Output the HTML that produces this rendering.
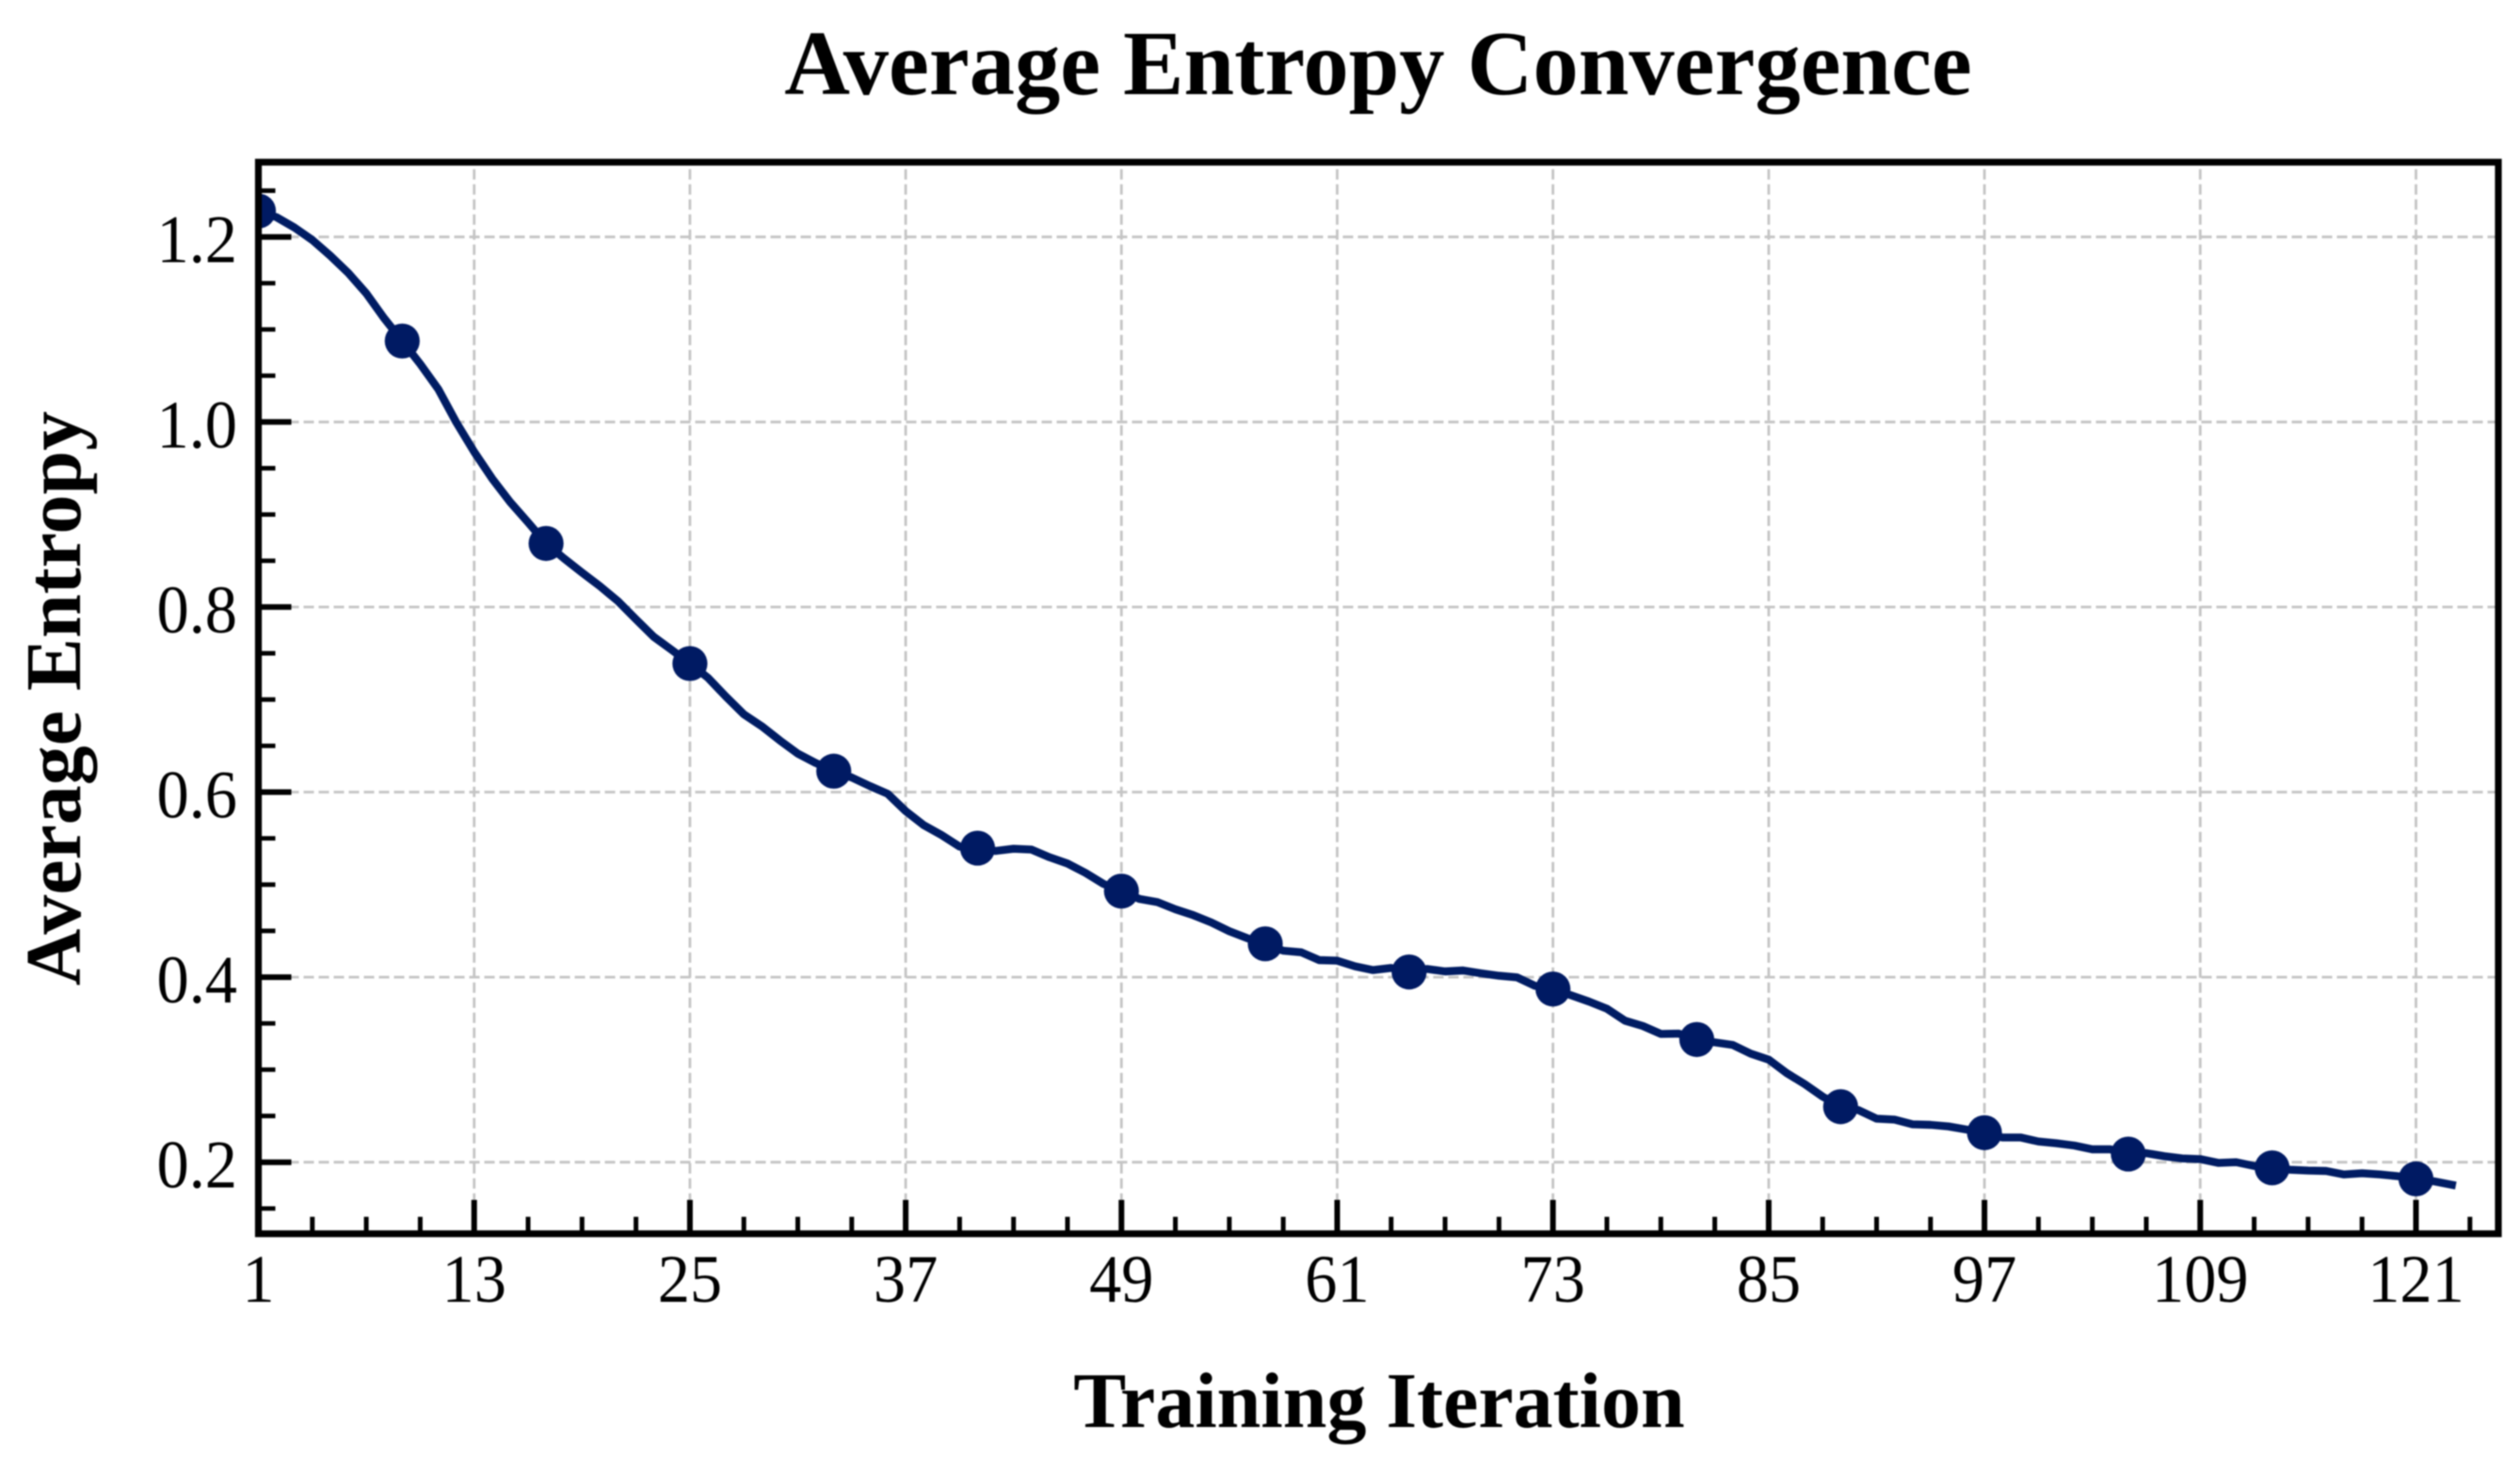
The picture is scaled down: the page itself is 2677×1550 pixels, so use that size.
<!DOCTYPE html>
<html lang="en">
<head>
<meta charset="utf-8">
<title>Average Entropy Convergence</title>
<style>
html,body{margin:0;padding:0;background:#fff;width:2677px;height:1550px;overflow:hidden}
svg{display:block;filter:blur(0.7px)}
text{font-family:"Liberation Serif","Times New Roman",serif;fill:#000}
</style>
</head>
<body>
<svg id="chart" xmlns="http://www.w3.org/2000/svg" width="2677" height="1550" viewBox="0 0 2677 1550">
  <defs>
    <clipPath id="plot-clip"><rect x="274.5" y="172.3" width="2379.5" height="1138.4"></rect></clipPath>
  </defs>
  <rect x="0" y="0" width="2677" height="1550" fill="#fff"></rect>
  <g id="grid"></g>
  <g id="ticks"></g>
  <g clip-path="url(#plot-clip)">
    <polyline id="series-line" fill="none" stroke="#001c63" stroke-width="8.4" stroke-linejoin="round" stroke-linecap="square"></polyline>
    <g id="markers"></g>
  </g>
  <rect x="274.5" y="172.3" width="2379.5" height="1138.4" fill="none" stroke="#000" stroke-width="7.2"></rect>
  <g id="tick-labels"></g>
  <text transform="translate(1464 100) scale(0.985 1)" text-anchor="middle" font-size="98" font-weight="bold">Average Entropy Convergence</text>
  <text x="1465" y="1516" text-anchor="middle" font-size="84" font-weight="bold">Training Iteration</text>
  <text x="0" y="0" transform="translate(85 742) rotate(-90)" text-anchor="middle" font-size="84" font-weight="bold">Average Entropy</text>
</svg>
<script>
const iterations = [];
for (let n = 1; n <= 123; n++) iterations.push(n);
const entropyValues = [
1.228,1.2214,1.2102,1.1966,1.1797,1.1610,1.1390,1.1119,1.0875,1.0627,
1.0356,0.9998,0.9678,0.9389,0.9135,0.8915,0.8687,0.8525,0.8372,0.8225,
0.8063,0.7868,0.7677,0.7535,0.7389,0.7236,0.7033,0.6840,0.6711,0.6558,
0.6416,0.6314,0.6226,0.6158,0.6066,0.5982,0.5795,0.5643,0.5535,0.5411,
0.5394,0.5364,0.5388,0.5378,0.5296,0.5228,0.5127,0.5008,0.4930,0.4845,
0.4811,0.4733,0.4669,0.4591,0.4496,0.4421,0.4360,0.4286,0.4269,0.4184,
0.4178,0.4117,0.4076,0.4100,0.4056,0.4089,0.4062,0.4072,0.4042,0.4015,
0.3998,0.3906,0.3872,0.3805,0.3737,0.3659,0.3530,0.3472,0.3387,0.3390,
0.3326,0.3295,0.3268,0.3173,0.3109,0.2963,0.2844,0.2709,0.2600,0.2563,
0.2471,0.2461,0.2410,0.2404,0.2387,0.2353,0.2319,0.2268,0.2268,0.2224,
0.2204,0.2180,0.2139,0.2139,0.2088,0.2098,0.2065,0.2041,0.2034,0.1993,
0.2000,0.1959,0.1939,0.1919,0.1909,0.1905,0.1868,0.1881,0.1868,0.1848,
0.1820,0.1793,0.1756];
const markerEvery = 8;
const xMajorTicks = [1,13,25,37,49,61,73,85,97,109,121];
const xMinorTicks = [4,7,10,16,19,22,28,31,34,40,43,46,52,55,58,64,67,70,76,79,82,88,91,94,100,103,106,112,115,118,124];
const yMajorTicks = [0.2,0.4,0.6,0.8,1.0,1.2];
const yMinorTicks = [0.15,0.25,0.3,0.35,0.45,0.5,0.55,0.65,0.7,0.75,0.85,0.9,0.95,1.05,1.1,1.15,1.25];

const plotLeft = 274.5, plotRight = 2654, plotTop = 172.3, plotBottom = 1310.7;
function xScale(v) { return plotLeft + (v - 1) * 19.1; }
function yScale(v) { return 1234.7 - (v - 0.2) * 983; }

const NS = 'http://www.w3.org/2000/svg';
function shape(tag, parent, props) {
  const el = document.createElementNS(NS, tag);
  for (const k in props) el.setAttribute(k, props[k]);
  parent.appendChild(el);
  return el;
}

const grid = document.getElementById('grid');
const ticks = document.getElementById('ticks');
const labels = document.getElementById('tick-labels');
const gridStyle = { stroke: '#c4c4c4', 'stroke-width': 2.8, 'stroke-dasharray': '11 5' };
const labelSquash = 0.95;

yMajorTicks.forEach(function (v) {
  const y = yScale(v);
  const g = shape('line', grid, Object.assign({ x1: plotLeft, x2: plotRight, y1: y, y2: y }, gridStyle));
  
  
  const t = shape('line', ticks, { x1: plotLeft, x2: plotLeft + 35, y1: y, y2: y, stroke: '#000', 'stroke-width': 6 });
  
  
  const l = shape('text', labels, { transform: 'translate(252 ' + (y + 27) + ') scale(' + labelSquash + ' 1)', 'text-anchor': 'end', 'font-size': 72 });
  l.textContent = v.toFixed(1);
  
  
});
yMinorTicks.forEach(function (v) {
  const y = yScale(v);
  const t = shape('line', ticks, { x1: plotLeft, x2: plotLeft + 18, y1: y, y2: y, stroke: '#000', 'stroke-width': 4.8 });
  
  
});
xMajorTicks.forEach(function (v) {
  const x = xScale(v);
  const g = shape('line', grid, Object.assign({ x1: x, x2: x, y1: plotBottom, y2: plotTop }, gridStyle));
  
  
  const t = shape('line', ticks, { x1: x, x2: x, y1: plotBottom, y2: plotBottom - 36, stroke: '#000', 'stroke-width': 6 });
  
  
  const l = shape('text', labels, { transform: 'translate(' + x + ' 1383) scale(' + labelSquash + ' 1)', 'text-anchor': 'middle', 'font-size': 72 });
  l.textContent = String(v);
  
  
});
xMinorTicks.forEach(function (v) {
  const x = xScale(v);
  const t = shape('line', ticks, { x1: x, x2: x, y1: plotBottom, y2: plotBottom - 18, stroke: '#000', 'stroke-width': 5 });
  
  
});

document.getElementById('series-line').setAttribute('points', iterations.map(function (n, i) {
  return xScale(n).toFixed(1) + ',' + yScale(entropyValues[i]).toFixed(1);
}).join(' '));

const markers = document.getElementById('markers');
iterations.forEach(function (n, i) {
  if (i % markerEvery !== 0) return;
  const c = shape('circle', markers, { cx: xScale(n), cy: yScale(entropyValues[i]), r: 18.6, fill: '#001a63' });
  
  
});
</script>
</body>
</html>
